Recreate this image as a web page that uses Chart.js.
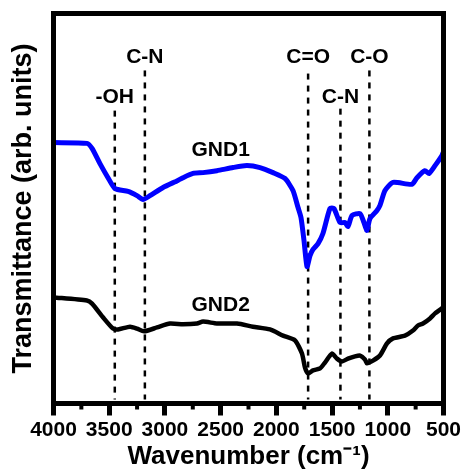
<!DOCTYPE html>
<html>
<head>
<meta charset="utf-8">
<script src="https://cdn.jsdelivr.net/npm/chart.js@4/dist/chart.umd.min.js"></script>
<style>
  html, body { margin: 0; padding: 0; background: #fff; }
  #chart { display: block; }
</style>
</head>
<body>
<canvas id="chart" width="461" height="475"></canvas>
<script>
// x ticks (reversed wavenumber axis)
const majorTicks = [4000, 3500, 3000, 2500, 2000, 1500, 1000, 500];
const minorTicks = [3750, 3250, 2750, 2250, 1750, 1250, 750];

// GND1 spectrum
const gnd1Wave = [4000, 3700, 3654, 3583, 3511, 3448, 3331, 3251, 3197, 3134, 3017, 2883, 2838, 2748, 2658, 2533, 2389, 2264, 2147, 2030, 1923, 1851, 1806, 1779, 1752, 1725, 1698, 1671, 1626, 1582, 1519, 1483, 1429, 1384, 1357, 1321, 1249, 1214, 1187, 1160, 1097, 1070, 1025, 953, 783, 738, 666, 630, 576, 514, 500];
const gnd1Value = [66.9, 66.7, 65.4, 61.5, 57.9, 55.1, 54.4, 53.3, 52.3, 53.3, 55.4, 57.2, 57.9, 59.0, 59.2, 59.7, 60.5, 61.0, 60.5, 59.2, 57.7, 54.6, 50.3, 47.7, 41.8, 35.1, 37.9, 39.5, 41.0, 43.6, 50.0, 50.0, 46.4, 46.4, 45.4, 48.2, 48.7, 46.4, 44.4, 47.4, 49.5, 50.8, 54.6, 56.7, 56.2, 57.9, 59.7, 59.0, 61.0, 63.6, 64.5];

// GND2 spectrum
const gnd2Wave = [4000, 3700, 3654, 3556, 3466, 3421, 3313, 3251, 3188, 3071, 2955, 2838, 2712, 2658, 2533, 2353, 2210, 2057, 1940, 1833, 1770, 1743, 1716, 1671, 1608, 1564, 1501, 1456, 1411, 1357, 1294, 1249, 1205, 1187, 1133, 1070, 1007, 953, 846, 774, 729, 684, 621, 576, 514, 500];
const gnd2Value = [27.2, 26.4, 25.6, 22.1, 19.2, 19.0, 19.7, 19.2, 18.5, 19.5, 20.5, 20.3, 20.5, 21.0, 20.5, 20.5, 19.7, 19.0, 17.4, 16.2, 12.8, 9.2, 7.7, 8.5, 9.0, 10.5, 12.8, 11.5, 10.8, 11.5, 12.1, 12.3, 11.3, 10.3, 11.0, 12.3, 15.4, 16.7, 17.4, 18.7, 20.0, 20.5, 21.8, 23.1, 24.4, 24.8];

// band assignments
const peakNames = ['-OH', 'C-N', 'C=O', 'C-N', 'C-O'];
const peakWave = [3450, 3180, 1715, 1425, 1165];
const peakLabelLevel = [78.5, 88.8, 88.8, 78.5, 88.8];
const peakLineTop = [75.1, 85.4, 84.6, 75.6, 85.4];
const peakLineBottom = 1;

// series names
const seriesNames = ['GND1', 'GND2'];
const seriesLabelWave = [2500, 2500];
const seriesLabelLevel = [64.9, 25.1];

const FONT = "'Liberation Sans', Arial, sans-serif";

const toPoints = (xs, ys) => xs.map((x, i) => ({ x, y: ys[i] }));

const peakLines = peakWave.map((w, i) => ({
    data: [{ x: w, y: peakLineTop[i] }, { x: w, y: peakLineBottom }],
    borderColor: '#000',
    borderWidth: 2.5,
    borderDash: [6, 6],
    pointRadius: 0,
    order: 2,
}));

const framePlugin = {
    id: 'frame',
    afterDatasetsDraw(chart) {
        const { ctx, chartArea: a, scales: { x, y } } = chart;
        ctx.save();

        // text labels
        ctx.fillStyle = '#000';
        ctx.textAlign = 'center';
        ctx.textBaseline = 'middle';
        ctx.font = `bold 21px ${FONT}`;
        peakNames.forEach((name, i) => {
            ctx.fillText(name, x.getPixelForValue(peakWave[i]), y.getPixelForValue(peakLabelLevel[i]));
        });
        seriesNames.forEach((name, i) => {
            ctx.fillText(name, x.getPixelForValue(seriesLabelWave[i]), y.getPixelForValue(seriesLabelLevel[i]));
        });

        // minor ticks
        ctx.strokeStyle = '#000';
        ctx.lineWidth = 4;
        minorTicks.forEach((v) => {
            const px = x.getPixelForValue(v);
            ctx.beginPath();
            ctx.moveTo(px, a.bottom);
            ctx.lineTo(px, a.bottom + 6);
            ctx.stroke();
        });

        // frame
        ctx.lineWidth = 5;
        ctx.strokeRect(a.left, a.top, a.right - a.left, a.bottom - a.top);
        ctx.restore();
    },
};

new Chart(document.getElementById('chart'), {
    type: 'line',
    data: {
        datasets: [
            {
                label: 'GND1',
                data: toPoints(gnd1Wave, gnd1Value),
                borderColor: '#0000ff',
                borderWidth: 5,
                pointRadius: 0,
                tension: 0.2,
                order: 0,
            },
            {
                label: 'GND2',
                data: toPoints(gnd2Wave, gnd2Value),
                borderColor: '#000',
                borderWidth: 4.5,
                pointRadius: 0,
                tension: 0.2,
                order: 0,
            },
            ...peakLines,
        ],
    },
    options: {
        responsive: false,
        animation: false,
        devicePixelRatio: 1,
        layout: { padding: { top: 13.5, right: 17.5, left: 0, bottom: 0 } },
        plugins: { legend: { display: false }, tooltip: { enabled: false } },
        scales: {
            x: {
                type: 'linear',
                reverse: true,
                min: 500,
                max: 4000,
                afterBuildTicks(axis) {
                    axis.ticks = majorTicks.map((value) => ({ value }));
                },
                afterFit(axis) {
                    axis.height = 71.5;
                    axis.paddingLeft = 0;
                    axis.paddingRight = 0;
                },
                border: { display: false },
                grid: { drawOnChartArea: false, tickLength: 12, tickWidth: 5, tickColor: '#000' },
                ticks: {
                    color: '#000',
                    padding: 2,
                    maxRotation: 0,
                    autoSkip: false,
                    font: { family: FONT, size: 21, weight: 'bold' },
                    callback: (value) => String(value),
                },
                title: {
                    display: true,
                    text: 'Wavenumber (cm⁻¹)',
                    color: '#000',
                    padding: { top: 0, bottom: 3 },
                    font: { family: FONT, size: 26, weight: 'bold' },
                },
            },
            y: {
                min: 0,
                max: 100,
                afterFit(axis) {
                    axis.width = 53.5;
                },
                border: { display: false },
                grid: { display: false },
                ticks: { display: false },
                title: {
                    display: true,
                    text: 'Transmittance (arb. units)',
                    color: '#000',
                    padding: { top: 7, bottom: 0 },
                    font: { family: FONT, size: 27, weight: 'bold' },
                },
            },
        },
    },
    plugins: [framePlugin],
});
</script>
</body>
</html>
